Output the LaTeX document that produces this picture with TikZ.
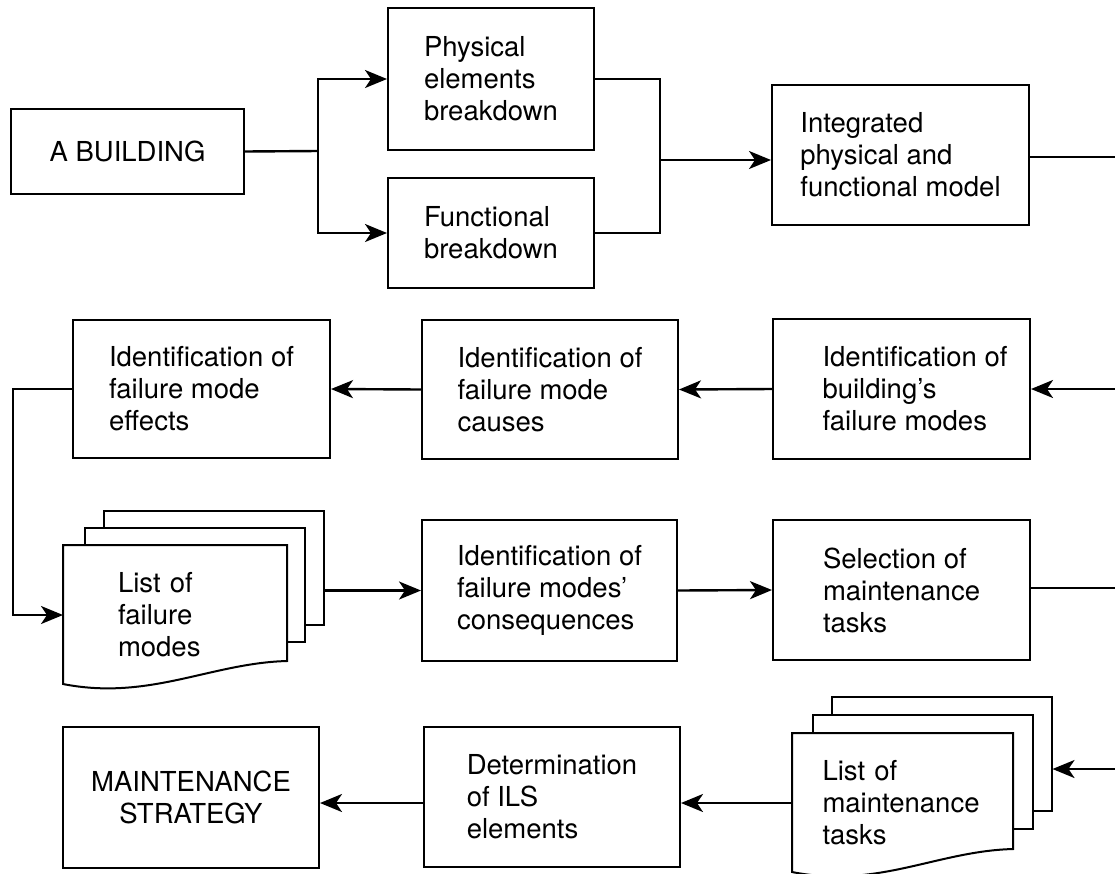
\documentclass[tikz,border=0pt]{standalone}
\usepackage{fontspec}
\setmainfont{TeX Gyre Heros}
\usetikzlibrary{arrows.meta}
\pgfdeclarelayer{bg}
\pgfsetlayers{bg,main}
\newcommand\docfrontpage[1]{%
  \draw[draw=black, line width=2pt, fill=white] (#1.north west) -- (#1.north east) -- ([yshift=24pt]#1.south east)
    .. controls ([xshift=-76pt,yshift=22pt]#1.south east) and ([xshift=86pt,yshift=-16pt]#1.south west)
    .. ([yshift=1pt]#1.south west) -- cycle;}
\begin{document}
\begin{tikzpicture}[x=1pt,y=-1pt,line width=2pt,
  txtfont/.style={font=\fontsize{27.5}{32}\selectfont},
  box/.style={draw, rectangle, inner sep=0pt, align=left, txtfont},
  sheet/.style={draw, line width=2pt, fill=white, rectangle, inner sep=0pt, minimum width=220pt, minimum height=114pt},
  frontpage/.style={rectangle, inner sep=0pt, align=left, txtfont, minimum height=138pt},
  conn/.style={line width=2.4pt},
  arr/.style={conn, -{Stealth[length=22pt,width=18pt,inset=6pt]}}]
\useasboundingbox (0,0) rectangle (1115,873);

% row 1
\node[box, minimum width=233pt, minimum height=85pt] (bld) at (127.5,151.5) {A BUILDING};
\node[box, minimum width=206pt, minimum height=142pt] (phys) at (491,79) {Physical\\elements\\breakdown};
\node[box, minimum width=206pt, minimum height=110pt] (func) at (491,233) {Functional\\breakdown};
\node[box, minimum width=257pt, minimum height=140pt] (integ) at (900.5,155) {Integrated\\physical and\\functional model};
\coordinate (j1) at (318,151);
\coordinate (j2) at (660,160);
\coordinate (e1) at (1115,157);

% row 2
\node[box, minimum width=257pt, minimum height=140pt] (bfm) at (901.5,389)
  {\hspace*{27pt}Identification of\\\hspace*{27pt}building’s\\\hspace*{27pt}failure modes};
\node[box, minimum width=256pt, minimum height=139pt] (cause) at (550,389.5) {Identification of\\failure mode\\causes};
\node[box, minimum width=257pt, minimum height=138pt] (eff) at (201.5,389) {Identification of\\failure mode\\effects};
\coordinate (e2) at (1115,389);
\coordinate (c1) at (13,389);

% row 3
\node[frontpage, minimum width=222pt, text width=114pt, inner xsep=54pt] (lfm) at (175,615) {List of\\failure\\modes};
\node[box, minimum width=255pt, minimum height=141pt] (cons) at (549.5,590.5) {Identification of\\failure modes’\\consequences};
\node[box, minimum width=257pt, minimum height=140pt] (sel) at (901.5,590) {Selection of\\maintenance\\tasks};
\coordinate (e3) at (1115,588);

% row 4
\node[frontpage, minimum width=219pt, text width=160pt, inner xsep=29.5pt] (lmt) at (902.5,803) {List of\\maintenance\\tasks};
\node[box, minimum width=256pt, minimum height=140pt] (ils) at (552,797) {Determination\\of ILS\\elements};
\node[box, align=center, minimum width=256pt, minimum height=141pt] (ms) at (191,797.5) {MAINTENANCE\\STRATEGY};
\coordinate (e4) at (1115,769);

\begin{pgfonlayer}{bg}
  \node[sheet] (lfm3) at (213.5,568) {};
  \node[sheet] (lfm2) at (194.5,585) {};
  \docfrontpage{lfm}
  \node[sheet] (lmt3) at (941.5,754) {};
  \node[sheet] (lmt2) at (922.5,771.5) {};
  \docfrontpage{lmt}
\end{pgfonlayer}

% connectors row 1
\draw[conn] (bld.east) -- (j1);
\draw[arr] (j1) |- (phys.west);
\draw[arr] (j1) |- (func.west);
\draw[conn] (phys.east) -| (j2);
\draw[conn] (func.east) -| (j2);
\draw[arr] (j2) -- (j2 -| integ.west);
\draw[conn] (integ.east |- e1) -- (e1);

% row 2
\draw[arr] (e2) -- (bfm.east);
\draw[arr] (bfm.west) -- (cause.east);
\draw[arr] (cause.west) -- (eff.east);
\draw[arr] (eff.west) -- (c1) |- (lfm.west);

% row 3
\draw[arr] (lfm3.east |- cons.west) -- (cons.west);
\draw[arr] (cons.east) -- (sel.west);
\draw[conn] (sel.east |- e3) -- (e3);

% row 4
\draw[arr] (e4) -- (e4 -| lmt3.east);
\draw[arr] (lmt.west) -- (lmt.west -| ils.east);
\draw[arr] (lmt.west -| ils.west) -- (lmt.west -| ms.east);
\end{tikzpicture}
\end{document}
